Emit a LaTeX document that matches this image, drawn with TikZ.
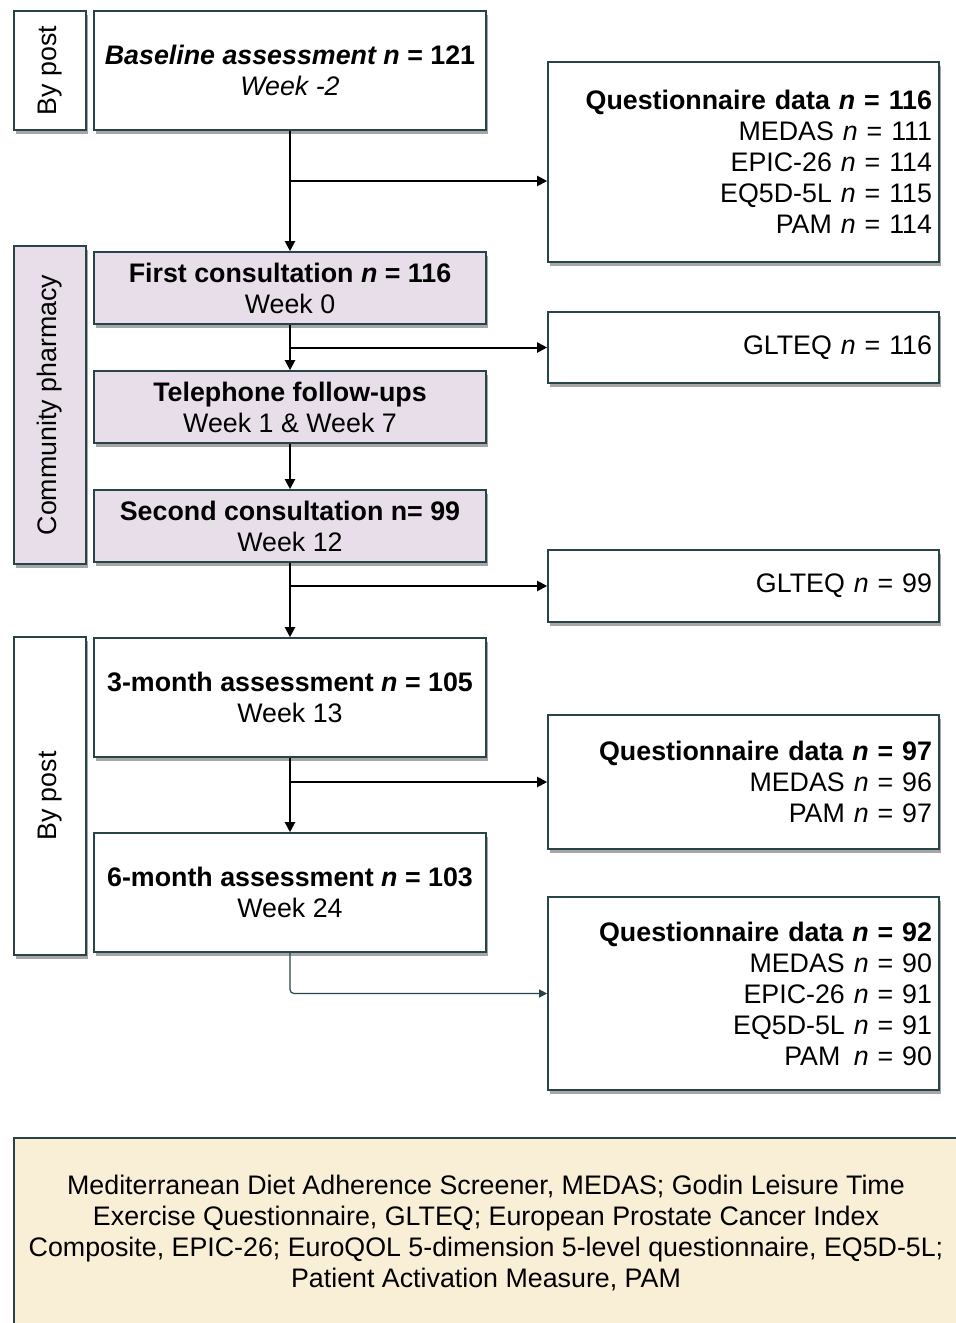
\documentclass[tikz,border=0pt]{standalone}
\usepackage{fontspec}
\setmainfont{Liberation Sans}
\usetikzlibrary{arrows.meta, shadows}
\definecolor{boxline}{RGB}{40,68,72}
\definecolor{lilac}{RGB}{232,222,234}
\definecolor{notefill}{RGB}{249,239,214}
\tikzset{
  box/.style={draw=boxline, line width=0.8pt, fill=white, inner sep=0pt,
    minimum width=196pt, align=center,
    drop shadow={shadow xshift=1pt, shadow yshift=-2pt, fill=black, opacity=0.35}},
  sidebox/.style={box, minimum width=36pt, minimum height=159pt},
  stepbox/.style={box, fill=lilac, minimum height=36pt},
  databox/.style={box, minimum width=195.5pt, inner xsep=3.5pt,
    text width=188.5pt, align=right},
  flow/.style={-{Triangle[width=5pt,length=5pt]}, line width=1pt},
  thinflow/.style={-{Triangle[width=4pt,length=4pt]}, draw=boxline,
    line width=0.6pt, rounded corners=2pt},
}
\begin{document}
\begin{tikzpicture}[x=0.5pt, y=-0.5pt, font=\fontsize{13.4pt}{15.5pt}\selectfont]
  \useasboundingbox (0,0) rectangle (956,1323);

  % left column
  \node[sidebox, minimum height=59.5pt] (post1) at (50,70.5) {};
  \node[rotate=90] at (post1.center) {By post};
  \node[box, minimum height=59.5pt] (base) at (290,70.5)
    {\textbf{\textit{Baseline assessment n} = 121}\\\textit{Week -2}};

  \node[sidebox, fill=lilac] (pharm) at (50,405) {};
  \node[rotate=90] at (pharm.center) {Community pharmacy};
  \node[stepbox] (first) at (290,288)
    {\textbf{First consultation \textit{n} = 116}\\Week 0};
  \node[stepbox] (phone) at (290,407)
    {\textbf{Telephone follow-ups}\\Week 1 \& Week 7};
  \node[stepbox] (second) at (290,526)
    {\textbf{Second consultation n= 99}\\Week 12};

  \node[sidebox] (post2) at (50,796) {};
  \node[rotate=90] at (post2.center) {By post};
  \node[box, minimum height=59.5pt] (month3) at (290,697.5)
    {\textbf{3-month assessment \textit{n} = 105}\\Week 13};
  \node[box, minimum height=59.5pt] (month6) at (290,892.5)
    {\textbf{6-month assessment \textit{n} = 103}\\Week 24};

  % right column
  \node[databox, minimum height=100pt] (data1) at (743.5,162)
    {\textbf{Questionnaire data \textit{n} = 116}\\
     MEDAS \textit{n} = 111\\EPIC-26 \textit{n} = 114\\
     EQ5D-5L \textit{n} = 115\\PAM \textit{n} = 114};
  \node[databox, minimum height=35.5pt] (glteq1) at (743.5,347.5)
    {GLTEQ \textit{n} = 116};
  \node[databox, minimum height=36pt] (glteq2) at (743.5,586)
    {GLTEQ \textit{n} = 99};
  \node[databox, minimum height=67pt] (data2) at (743.5,782)
    {\textbf{Questionnaire data \textit{n} = 97}\\
     MEDAS \textit{n} = 96\\PAM \textit{n} = 97};
  \node[databox, minimum height=96.5pt] (data3) at (743.5,993.5)
    {\textbf{Questionnaire data \textit{n} = 92}\\
     MEDAS \textit{n} = 90\\EPIC-26 \textit{n} = 91\\
     EQ5D-5L \textit{n} = 91\\PAM\enspace\textit{n} = 90};

  % abbreviations
  \node[draw=boxline, line width=0.8pt, fill=notefill, minimum width=472pt,
    minimum height=95pt, align=center] (note) at (486,1233)
    {Mediterranean Diet Adherence Screener, MEDAS; Godin Leisure Time\\
     Exercise Questionnaire, GLTEQ; European Prostate Cancer Index\\
     Composite, EPIC-26; EuroQOL 5-dimension 5-level questionnaire, EQ5D-5L;\\
     Patient Activation Measure, PAM};

  % connectors
  \coordinate (split1) at (290,181);
  \draw[flow] (base) -- (first);
  \draw[flow] (split1) -- (split1 -| data1.west);
  \draw[flow] (first) -- (phone);
  \draw[flow] (first.south |- glteq1.west) -- (glteq1.west);
  \draw[flow] (phone) -- (second);
  \draw[flow] (second) -- (month3);
  \draw[flow] (second.south |- glteq2.west) -- (glteq2.west);
  \draw[flow] (month3) -- (month6);
  \draw[flow] (month3.south |- data2.west) -- (data2.west);
  \draw[thinflow] (month6.south) |- (data3.west);
\end{tikzpicture}
\end{document}
